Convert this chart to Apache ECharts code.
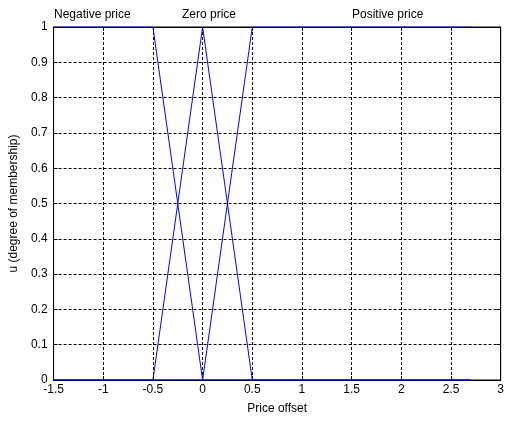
<!DOCTYPE html>
<html>
<head>
<meta charset="utf-8">
<script src="https://cdn.jsdelivr.net/npm/echarts@6/dist/echarts.min.js"></script>
<style>
html,body{margin:0;padding:0;background:#fff;}
#main{width:507px;height:421px;}
</style>
</head>
<body>
<div id="main"></div>
<script>
// membership functions (x, u)
var negX = [-1.5, -0.5, 0, 2.7];
var negU = [1, 1, 0, 0];
var zeroX = [-1.5, -0.5, 0, 0.5, 2.7];
var zeroU = [0, 0, 1, 0, 0];
var posX = [-1.5, 0, 0.5, 2.7];
var posU = [0, 0, 1, 1];
var setNames = ['Negative price', 'Zero price', 'Positive price'];

function pairs(xs, ys) {
  return xs.map(function (x, i) { return [x, ys[i]]; });
}

var myChart = echarts.init(document.getElementById('main'));
var font = 'Liberation Sans, Arial, sans-serif';
var grid = { color: '#000', type: [3, 2], width: 1 };

function lineSeries(name, xs, ys) {
  return {
    name: name,
    type: 'line',
    data: pairs(xs, ys),
    symbol: 'none',
    lineStyle: { color: '#0000ff', width: 1 },
    animation: false
  };
}

option = {
  backgroundColor: '#fff',
  grid: { left: 52, right: 5, top: 27, bottom: 41, show: true, borderColor: '#000', borderWidth: 1 },
  xAxis: [{
    type: 'value', min: -1.5, max: 3, interval: 0.5,
    name: 'Price offset', nameLocation: 'middle', nameGap: 23,
    nameTextStyle: { color: '#000', fontSize: 12, fontFamily: font },
    axisLine: { onZero: false, lineStyle: { color: '#000' } },
    axisTick: { inside: true, length: 4, lineStyle: { color: '#000' } },
    axisLabel: { color: '#000', fontSize: 12, fontFamily: font, margin: 4 },
    splitLine: { show: true, lineStyle: grid }
  }, {
    type: 'value', min: -1.5, max: 3, interval: 0.5, position: 'top',
    axisLine: { onZero: false, lineStyle: { color: '#000' } },
    axisTick: { inside: true, length: 4, lineStyle: { color: '#000' } },
    axisLabel: { show: false }, splitLine: { show: false }
  }],
  yAxis: [{
    type: 'value', min: 0, max: 1, interval: 0.1,
    name: 'u (degree of membership)', nameLocation: 'middle', nameGap: 33,
    nameTextStyle: { color: '#000', fontSize: 12, fontFamily: font },
    axisLine: { show: true, onZero: false, lineStyle: { color: '#000' } },
    axisTick: { show: true, inside: true, length: 4, lineStyle: { color: '#000' } },
    axisLabel: { color: '#000', fontSize: 12, fontFamily: font, margin: 6 },
    splitLine: { show: true, lineStyle: grid }
  }, {
    type: 'value', min: 0, max: 1, interval: 0.1, position: 'right',
    axisLine: { show: true, onZero: false, lineStyle: { color: '#000' } },
    axisTick: { show: true, inside: true, length: 4, lineStyle: { color: '#000' } },
    axisLabel: { show: false }, splitLine: { show: false }
  }],
  graphic: [
    { type: 'text', left: 54, top: 9, style: { text: setNames[0], fill: '#000', font: '12px ' + font } },
    { type: 'text', left: 182, top: 9, style: { text: setNames[1], fill: '#000', font: '12px ' + font } },
    { type: 'text', left: 352, top: 9, style: { text: setNames[2], fill: '#000', font: '12px ' + font } }
  ],
  series: [
    lineSeries(setNames[0], negX, negU),
    lineSeries(setNames[1], zeroX, zeroU),
    lineSeries(setNames[2], posX, posU)
  ]
};

myChart.setOption(option);
</script>
</body>
</html>
